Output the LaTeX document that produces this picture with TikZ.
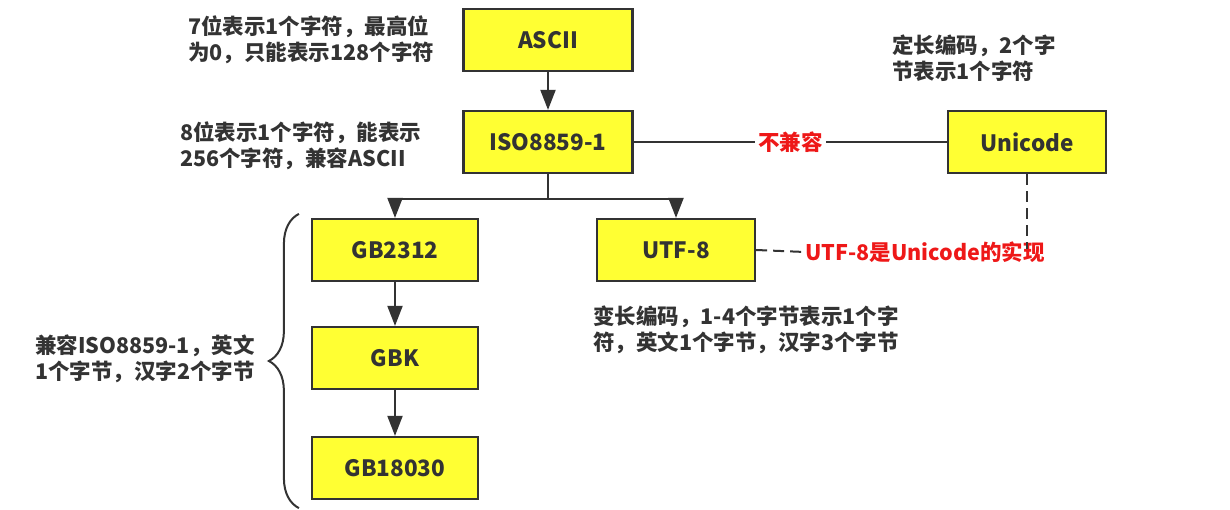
\documentclass[tikz,border=0pt]{standalone}
\usepackage{fontspec}
\setmainfont{Noto Sans CJK SC}
\usetikzlibrary{arrows.meta,decorations.pathreplacing}
\definecolor{boxyellow}{RGB}{255,255,51}
\definecolor{inkgray}{RGB}{51,51,51}
\definecolor{notered}{RGB}{238,24,24}
\begin{document}
\begin{tikzpicture}[x=1pt, y=-1pt,
  enc/.style={draw=inkgray, line width=2.2pt, fill=boxyellow, minimum width=166pt,
    minimum height=62pt, text=inkgray, font=\fontsize{22.5}{25}\selectfont\bfseries},
  note/.style={align=left, anchor=west, inner sep=0pt, text=inkgray,
    font=\fontsize{21.5}{25.5}\selectfont\bfseries},
  warn/.style={text=notered, inner sep=0pt, font=\fontsize{21.5}{25}\selectfont\bfseries},
  link/.style={draw=inkgray, line width=2pt},
  flow/.style={link, -{Triangle[length=20pt, width=15pt]}}]
  \useasboundingbox (0,0) rectangle (1230,510);
  % encodings
  \node[enc, minimum width=169pt] (ascii) at (548,40) {ASCII};
  \node[enc, minimum width=169pt] (iso) at (548,142) {ISO8859-1};
  \node[enc, minimum width=158pt] (unicode) at (1027,142) {Unicode};
  \node[enc] (gb2312) at (395,250) {GB2312};
  \node[enc, minimum width=158pt] (utf8) at (676,250) {UTF-8};
  \node[enc] (gbk) at (395,358) {GBK};
  \node[enc] (gb18030) at (395,468) {GB18030};
  % notes
  \node[note] (asciinote) at (188,40) {7位表示1个字符，最高位\\为0，只能表示128个字符};
  \node[note] (isonote) at (180,146) {8位表示1个字符，能表示\\256个字符，兼容ASCII};
  \node[note] (uninote) at (892,58) {定长编码，2个字\\节表示1个字符};
  \node[note] (utfnote) at (593,330) {变长编码，1-4个字节表示1个字\\符，英文1个字节，汉字3个字节};
  \node[note] (gbnote) at (35,359) {兼容ISO8859-1，英文\\1个字节，汉字2个字节};
  \node[warn, anchor=west] (impl) at (805,252) {UTF-8是Unicode的实现};
  % links
  \draw[flow] (ascii) -- (iso);
  \draw[link] (iso.south) -- ++(0,25) coordinate (fork);
  \draw[flow] (fork) -| (gb2312.north);
  \draw[flow] (fork) -| (utf8.north);
  \draw[flow] (gb2312) -- (gbk);
  \draw[flow] (gbk) -- (gb18030);
  \draw[link] (iso) -- node[warn, fill=white, inner xsep=3pt] (clash) {不兼容} (unicode);
  \draw[link, dash pattern=on 11pt off 6pt] (unicode.south) -- ([yshift=-8pt]unicode.south |- impl.north);
  \draw[link, dash pattern=on 11pt off 6pt] (utf8.east) -- (impl.west);
  \draw[link, decorate, decoration={brace, amplitude=30pt}]
    ([xshift=-12pt,yshift=-8pt]gb18030.south west) -- ([xshift=-12pt,yshift=4pt]gb2312.north west);
\end{tikzpicture}
\end{document}
